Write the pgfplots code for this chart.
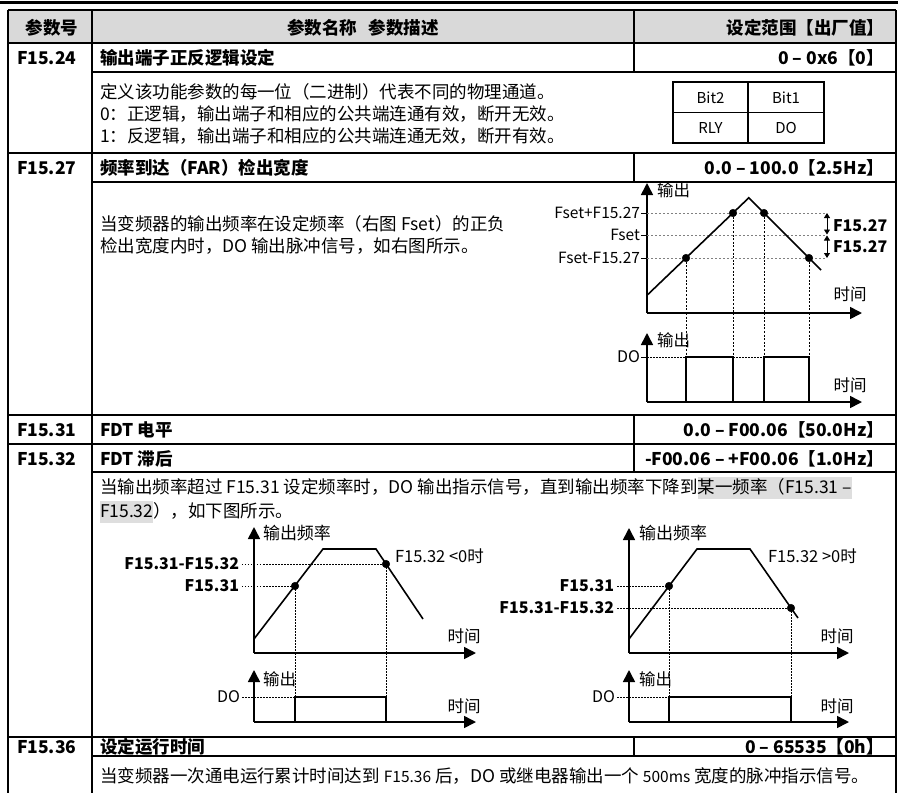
\documentclass[border=0pt]{standalone}
\usepackage{fontspec}
\setmainfont{Noto Sans CJK SC}
\usepackage{pgfplots}
\pgfplotsset{compat=1.18}
\usetikzlibrary{arrows.meta}
\definecolor{hdr}{RGB}{217,217,217}
\definecolor{hl}{RGB}{222,222,222}
\newcommand{\fs}[1]{\fontsize{#1}{#1}\selectfont}
\newcommand{\hlb}[1]{{\setlength{\fboxsep}{0pt}\colorbox{hl}{\rule[-5pt]{0pt}{22pt}#1}}}
\pgfplotsset{
  diag/.style={scale only axis, clip=false, axis lines=left,
    axis line style={line width=1.6pt, -{Triangle[length=12pt,width=12pt]}},
    xtick=\empty, ytick=\empty, xmin=0, ymin=0, anchor=south west},
  curve/.style={black, line width=1.6pt},
  dots/.style={only marks, mark=*, mark size=3.8pt, black, mark options={fill=black}},
  vdot/.style={black, line width=0.9pt, dash pattern=on 2pt off 1.6pt},
  gdash/.style={gray, line width=0.7pt, dash pattern=on 2pt off 2pt},
  hdot/.style={black, line width=0.8pt, dash pattern=on 1.5pt off 1.5pt},
}
\begin{document}
\begin{tikzpicture}[x=1pt,y=1pt, every node/.style={inner sep=0pt, outer sep=0pt}]
\useasboundingbox (0,0) rectangle (898,-793);
% ---------- table frame ----------
\fill[hdr] (8,-10) rectangle (896,-43);
\draw[line width=3pt] (0,-2.5) -- (898,-2.5);
\begin{scope}[line width=1.6pt]
\draw (8,-10) -- (896,-10);
\draw (8,-10) -- (8,-793);
\draw (896,-10) -- (896,-793);
\draw (92,-10) -- (92,-793);
\foreach \yy in {43,153,415,444,737} {\draw (8,-\yy) -- (896,-\yy);}
\foreach \yy in {72,182,472,756} {\draw (92,-\yy) -- (896,-\yy);}
\draw (634,-10) -- (634,-72);
\draw (634,-153) -- (634,-182);
\draw (634,-415) -- (634,-472);
\draw (634,-737) -- (634,-756);
\end{scope}
% bit table
\begin{scope}[line width=1.2pt]
\draw (673,-82) rectangle (824,-143);
\draw (673,-112.5) -- (824,-112.5);
\draw (748,-82) -- (748,-143);
\end{scope}
\node[font=\fs{15}] at (710.5,-97.5) {Bit2};
\node[font=\fs{15}] at (786,-97.5) {Bit1};
\node[font=\fs{15}] at (710.5,-128) {RLY};
\node[font=\fs{15}] at (786,-128) {DO};
% ---------- header ----------
\begin{scope}[every node/.append style={font=\bfseries\fs{17.5}}]
\node[anchor=base] at (52,-34.1) {参数号};
\node[anchor=base] at (363,-34.1) {参数名称\hspace{12pt}参数描述};
\node[anchor=base east] at (884,-34.1) {设定范围【出厂值】};
% row titles
\node[anchor=base west] at (17,-64.1) {F15.24};
\node[anchor=base west] at (100,-64.1) {输出端子正反逻辑设定};
\node[anchor=base east] at (884,-64.1) {0 – 0x6【0】};
\node[anchor=base west] at (17,-174.6) {F15.27};
\node[anchor=base west] at (100,-174.6) {频率到达（FAR）检出宽度};
\node[anchor=base east] at (884,-174.6) {0.0 – 100.0【2.5Hz】};
\node[anchor=base west] at (17,-436.6) {F15.31};
\node[anchor=base west] at (100,-436.6) {FDT 电平};
\node[anchor=base east] at (884,-436.6) {0.0 – F00.06【50.0Hz】};
\node[anchor=base west] at (17,-465.1) {F15.32};
\node[anchor=base west] at (100,-465.1) {FDT 滞后};
\node[anchor=base east] at (884,-465.1) {-F00.06 – +F00.06【1.0Hz】};
\node[anchor=base west] at (17,-753.1) {F15.36};
\node[anchor=base west] at (100,-753.1) {设定运行时间};
\node[anchor=base east] at (884,-753.1) {0 – 65535【0h】};
\end{scope}
% ---------- descriptions ----------
\begin{scope}[every node/.append style={font=\fs{17.5}, anchor=base west}]
\node at (100,-98.6) {定义该功能参数的每一位（二进制）代表不同的物理通道。};
\node at (100,-120.6) {0：正逻辑，输出端子和相应的公共端连通有效，断开无效。};
\node at (100,-142.6) {1：反逻辑，输出端子和相应的公共端连通无效，断开有效。};
\node at (100,-230.6) {当变频器的输出频率在设定频率（右图 Fset）的正负};
\node at (100,-252.6) {检出宽度内时，DO 输出脉冲信号，如右图所示。};
\node at (100,-493.6) {当输出频率超过 F15.31 设定频率时，DO 输出指示信号，直到输出频率下降到\hlb{某一频率（F15.31 –}};
\node at (100,-517.6) {\hlb{F15.32}），如下图所示。};
\node at (100,-782.6) {当变频器一次通电运行累计时间达到 {\fs{15.5}F15.36} 后，DO 或继电器输出一个 {\fs{15.5}500ms} 宽度的脉冲指示信号。};
\end{scope}
% ---------- F15.27 upper diagram ----------
\begin{axis}[diag, at={(647pt,-313pt)}, width=215pt, height=130pt, xmax=215, ymax=130,
  ytick={55,78,100}, yticklabels={Fset-F15.27,Fset,Fset+F15.27},
  tick align=outside, major tick length=6pt, tick style={black, line width=0.6pt},
  yticklabel style={font=\fs{15.5}, inner sep=1pt}]
\addplot[gdash] coordinates {(0,100) (178,100)};
\addplot[gdash] coordinates {(0,78) (178,78)};
\addplot[gdash] coordinates {(0,55) (178,55)};
\addplot[vdot] coordinates {(39,55) (39,0)};
\addplot[vdot] coordinates {(86,100) (86,0)};
\addplot[vdot] coordinates {(117,100) (117,0)};
\addplot[vdot] coordinates {(162,55) (162,0)};
\addplot[curve] coordinates {(0,17.7) (101.8,115.2) (174,43)};
\addplot[dots] coordinates {(39,55) (86,100) (117,100) (162,55)};
\draw[{Triangle[length=5pt,width=6pt]}-{Triangle[length=5pt,width=6pt]}, line width=0.8pt] (axis cs:180,100) -- (axis cs:180,78.5);
\draw[{Triangle[length=5pt,width=6pt]}-{Triangle[length=5pt,width=6pt]}, line width=0.8pt] (axis cs:180,77.5) -- (axis cs:180,55);
\node[anchor=west, font=\bfseries\fs{16}] at (axis cs:186,87) {F15.27};
\node[anchor=west, font=\bfseries\fs{16}] at (axis cs:186,66) {F15.27};
\node[anchor=west, font=\fs{16.5}] at (axis cs:10,123) {输出};
\node[font=\fs{16.5}] at (axis cs:203,19) {时间};
\end{axis}
% ---------- F15.27 lower diagram ----------
\begin{axis}[diag, at={(647pt,-402pt)}, width=215pt, height=69pt, xmax=215, ymax=69,
  ytick={45}, yticklabels={DO},
  tick align=outside, major tick length=6pt, tick style={black, line width=0.6pt},
  yticklabel style={font=\fs{16}, inner sep=1pt}]
\addplot[hdot] coordinates {(0,45) (39,45)};
\addplot[hdot] coordinates {(86,45) (117,45)};
\addplot[vdot] coordinates {(39,89) (39,45)};
\addplot[vdot] coordinates {(86,89) (86,45)};
\addplot[vdot] coordinates {(117,89) (117,45)};
\addplot[vdot] coordinates {(162,89) (162,45)};
\addplot[curve] coordinates {(39,0) (39,45) (86,45) (86,0)};
\addplot[curve] coordinates {(117,0) (117,45) (162,45) (162,0)};
\node[anchor=west, font=\fs{16.5}] at (axis cs:10,62) {输出};
\node[font=\fs{16.5}] at (axis cs:203,17) {时间};
\end{axis}
% ---------- F15.32 left upper ----------
\begin{axis}[diag, at={(254pt,-653pt)}, width=222pt, height=126pt, xmax=222, ymax=126]
\addplot[hdot] coordinates {(-12,89) (132,89)};
\addplot[hdot] coordinates {(-12,67) (41,67)};
\addplot[hdot] coordinates {(41,67) (41,0)};
\addplot[hdot] coordinates {(132,89) (132,0)};
\addplot[curve] coordinates {(0,14) (69,104) (122,104) (169,34)};
\addplot[dots] coordinates {(41,67) (132,89)};
\node[anchor=east, font=\bfseries\fs{16}] at (axis cs:-15,89) {F15.31-F15.32};
\node[anchor=east, font=\bfseries\fs{16}] at (axis cs:-15,67) {F15.31};
\node[anchor=west, font=\fs{16.5}] at (axis cs:141,97) {F15.32 <0时};
\node[anchor=west, font=\fs{17}] at (axis cs:9,120) {输出频率};
\node[font=\fs{16.5}] at (axis cs:210,17) {时间};
\end{axis}
% ---------- F15.32 left lower ----------
\begin{axis}[diag, at={(254pt,-722pt)}, width=222pt, height=52pt, xmax=222, ymax=52]
\addplot[hdot] coordinates {(-12,25) (41,25)};
\addplot[hdot] coordinates {(41,69) (41,25)};
\addplot[hdot] coordinates {(132,69) (132,25)};
\addplot[curve] coordinates {(41,0) (41,25) (132,25) (132,0)};
\node[anchor=east, font=\fs{16}] at (axis cs:-14,25) {DO};
\node[anchor=west, font=\fs{16.5}] at (axis cs:9,43) {输出};
\node[font=\fs{16.5}] at (axis cs:210,16) {时间};
\end{axis}
% ---------- F15.32 right upper ----------
\begin{axis}[diag, at={(629pt,-653pt)}, width=220pt, height=125pt, xmax=220, ymax=125]
\addplot[hdot] coordinates {(-12,67) (40,67)};
\addplot[hdot] coordinates {(-12,45) (162,45)};
\addplot[hdot] coordinates {(40,67) (40,0)};
\addplot[hdot] coordinates {(162,45) (162,0)};
\addplot[curve] coordinates {(0,14) (68,104) (121,104) (169,35)};
\addplot[dots] coordinates {(40,67) (162,45)};
\node[anchor=east, font=\bfseries\fs{16}] at (axis cs:-15,67) {F15.31};
\node[anchor=east, font=\bfseries\fs{16}] at (axis cs:-15,45) {F15.31-F15.32};
\node[anchor=west, font=\fs{16.5}] at (axis cs:139,97) {F15.32 >0时};
\node[anchor=west, font=\fs{17}] at (axis cs:10,120) {输出频率};
\node[font=\fs{16.5}] at (axis cs:208,17) {时间};
\end{axis}
% ---------- F15.32 right lower ----------
\begin{axis}[diag, at={(629pt,-722pt)}, width=220pt, height=52pt, xmax=220, ymax=52]
\addplot[hdot] coordinates {(-12,25) (40,25)};
\addplot[hdot] coordinates {(40,69) (40,25)};
\addplot[hdot] coordinates {(162,69) (162,25)};
\addplot[curve] coordinates {(40,0) (40,25) (162,25) (162,0)};
\node[anchor=east, font=\fs{16}] at (axis cs:-14,25) {DO};
\node[anchor=west, font=\fs{16.5}] at (axis cs:10,43) {输出};
\node[font=\fs{16.5}] at (axis cs:208,16) {时间};
\end{axis}
\end{tikzpicture}
\end{document}
